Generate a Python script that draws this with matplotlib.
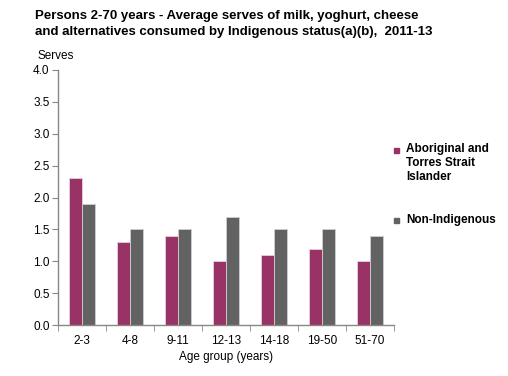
import matplotlib
matplotlib.use("Agg")
import matplotlib.pyplot as plt
import numpy as np

categories = ["2-3", "4-8", "9-11", "12-13", "14-18", "19-50", "51-70"]
aboriginal = [2.3, 1.3, 1.4, 1.0, 1.1, 1.2, 1.0]
non_indigenous = [1.9, 1.5, 1.5, 1.7, 1.5, 1.5, 1.4]
yticks = [0.0, 0.5, 1.0, 1.5, 2.0, 2.5, 3.0, 3.5, 4.0]

plt.rcParams['font.family'] = ['Liberation Sans', 'DejaVu Sans']
W, H = 508, 376
fig = plt.figure(figsize=(W/100, H/100), dpi=100)
ax = fig.add_axes([58/W, (H-325)/H, (394-58)/W, (325-70)/H])

purple = "#993366"
gray = "#626262"
x = np.arange(len(categories))
bw = 0.28
ax.bar(x - bw/2, aboriginal, bw, color=purple, edgecolor="#e8d0dc", linewidth=0.6)
ax.bar(x + bw/2, non_indigenous, bw, color=gray, edgecolor="#cfcfcf", linewidth=0.6)

ax.set_xlim(-0.5, len(categories) - 0.5)
ax.set_ylim(0, 4.0)
ax.set_yticks(yticks)
ax.set_yticklabels([f"{v:.1f}" for v in yticks], fontsize=8.5)
ax.set_xticks(x)
ax.set_xticklabels(categories, fontsize=8.5)
ax.tick_params(axis='x', length=0, pad=7)
ax.set_xticks(np.arange(-0.5, len(categories), 1.0), minor=True)
ax.tick_params(axis='x', which='minor', length=4, color="#888888", direction='out')
ax.tick_params(axis='y', length=4, color="#888888", direction='out', pad=2)
for s in ['top', 'right']:
    ax.spines[s].set_visible(False)
for s in ['left', 'bottom']:
    ax.spines[s].set_color("#888888")
    ax.spines[s].set_linewidth(1.0)

fig.text(35/W, 1 - 16/H, "Persons 2-70 years - Average serves of milk, yoghurt, cheese",
         fontsize=9.5, fontweight='bold', va='center', ha='left')
fig.text(35/W, 1 - 32/H, "and alternatives consumed by Indigenous status(a)(b),  2011-13",
         fontsize=9.5, fontweight='bold', va='center', ha='left')
fig.text(37/W, 1 - 56/H, "Serves", fontsize=8.5, va='center', ha='left')
fig.text(226/W, 1 - 357/H, "Age group (years)", fontsize=8.5, va='center', ha='center')

fig.patches.append(plt.Rectangle((394/W, 1 - 153/H), 5/W, 5/H, transform=fig.transFigure,
                                 color=purple))
fig.text(406/W, 1 - 163/H, "Aboriginal and\nTorres Strait\nIslander", fontsize=8.5,
         fontweight='bold', va='center', ha='left', linespacing=1.2)
fig.patches.append(plt.Rectangle((394/W, 1 - 223/H), 5/W, 5/H, transform=fig.transFigure,
                                 color=gray))
fig.text(406/W, 1 - 220/H, "Non-Indigenous", fontsize=8.5, fontweight='bold',
         va='center', ha='left')

fig.savefig("out.png", dpi=100)
